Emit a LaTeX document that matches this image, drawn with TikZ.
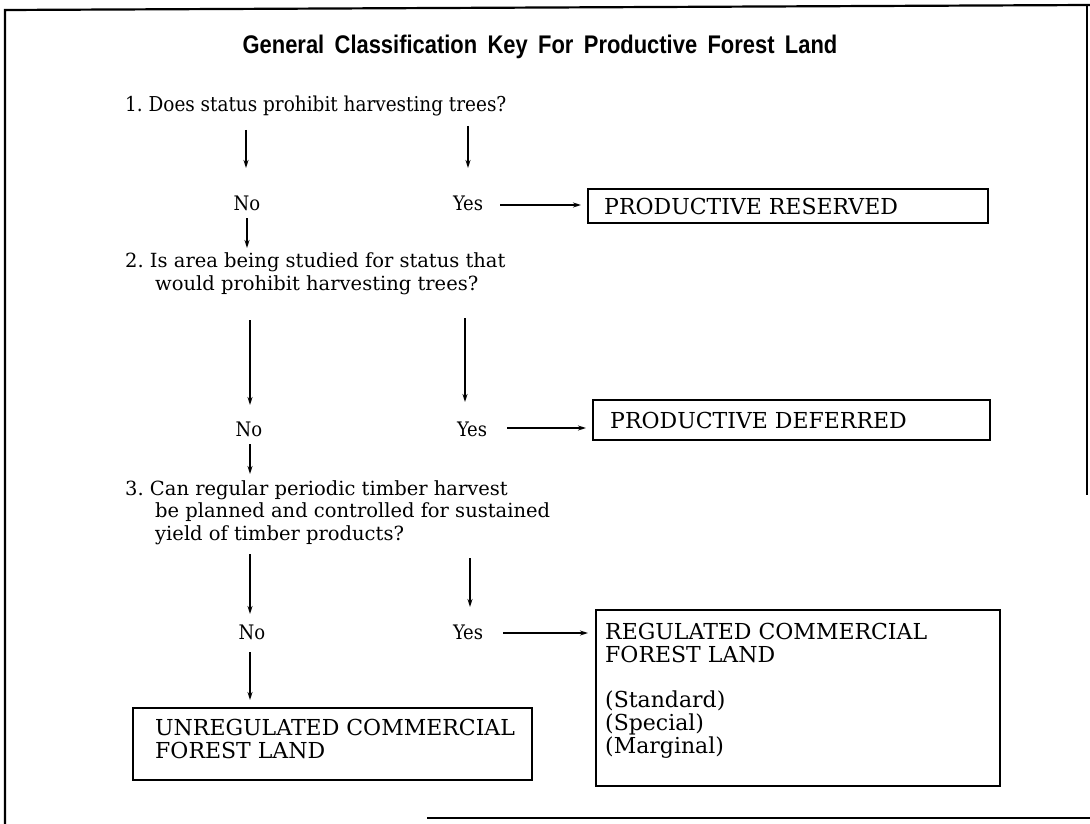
\documentclass[tikz,border=0pt]{standalone}
\usepackage{fontspec}
\usetikzlibrary{arrows.meta}
\newfontfamily\qfont{DejaVu Serif}
\newfontfamily\cfont{DejaVu Serif Condensed}
\newfontfamily\bxfont{DejaVu Serif}
\newfontfamily\tfont{Liberation Sans}[FakeStretch=0.86,WordSpace=1.7]
\begin{document}
\begin{tikzpicture}[x=1pt,y=-1pt,
  frame/.style={line width=2.2pt},
  arr/.style={line width=1.5pt,-{Stealth[length=8pt,width=5pt]}},
  ttl/.style={font=\tfont\bfseries\fontsize{25.5}{28}\selectfont,inner sep=0pt,anchor=base},
  qtext/.style={font=\qfont\fontsize{19.5}{22.5}\selectfont,align=left,inner sep=0pt,anchor=base west},
  qcond/.style={font=\cfont\fontsize{20.5}{22}\selectfont,align=left,inner sep=0pt,anchor=base west},
  lbl/.style={font=\cfont\fontsize{20}{22}\selectfont,inner sep=0pt,anchor=base},
  thinbox/.style={draw,line width=1.6pt},
  thickbox/.style={draw,line width=2.4pt},
  restext/.style={font=\bxfont\fontsize{22}{23}\selectfont,align=left,inner sep=0pt}
]
\useasboundingbox (0,0) rectangle (1090,824);
% outer frame
\draw[frame] (1090,5) -- (5,10) -- (5,824);
\draw[frame] (1087,5) -- (1087,495);
\draw[frame] (427,818) -- (1090,818);

\node[ttl] (title) at (540,54) {General Classification Key For Productive Forest Land};

% question 1
\node[qcond] (q1) at (125,112) {1.\ Does status prohibit harvesting trees?};
\node[lbl] (no1) at (247,211) {No};
\node[lbl] (yes1) at (468,211) {Yes};
\coordinate (a1l) at (246,130);
\coordinate (a1r) at (468,126);
\draw[arr] (a1l) -- (246,168);
\draw[arr] (a1r) -- (468,168);
\draw[thinbox] (588,189) rectangle (988,223);
\node[restext,anchor=base west] (r1) at (604,214) {PRODUCTIVE RESERVED};
\coordinate (b1) at (581,205);
\draw[arr] (500,205) -- (b1);

% question 2
\node[qtext] (q2) at (125,290) {2.\ Is area being studied for status that\\\hspace*{30pt}would prohibit harvesting trees?};
\draw[arr] (247,218) -- (247,248);
\node[lbl] (no2) at (249,436) {No};
\node[lbl] (yes2) at (472,436) {Yes};
\draw[arr] (250,320) -- (250,405);
\draw[arr] (465,318) -- (465,402);
\draw[thinbox] (593,400) rectangle (990,440);
\node[restext,anchor=base west] (r2) at (610,428) {PRODUCTIVE DEFERRED};
\coordinate (b2) at (586,428);
\draw[arr] (507,428) -- (b2);

% question 3
\node[qtext] (q3) at (125,540) {3.\ Can regular periodic timber harvest\\\hspace*{30pt}be planned and controlled for sustained\\\hspace*{30pt}yield of timber products?};
\draw[arr] (250,444) -- (250,474);
\node[lbl] (no3) at (252,639) {No};
\node[lbl] (yes3) at (468,639) {Yes};
\draw[arr] (250,554) -- (250,614);
\draw[arr] (470,558) -- (470,607);
\coordinate (b3) at (588,633);
\draw[arr] (503,633) -- (b3);
\draw[arr] (250,652) -- (250,700);

% result boxes
\draw[thickbox] (596,610) rectangle (1000,786);
\node[restext,anchor=north west] (r3) at (605,623) {REGULATED COMMERCIAL\\FOREST LAND\\[22pt](Standard)\\(Special)\\(Marginal)};
\draw[thickbox] (133,708) rectangle (532,780);
\node[restext,anchor=north west] (r4) at (155,719) {UNREGULATED COMMERCIAL\\FOREST LAND};
\end{tikzpicture}
\end{document}
